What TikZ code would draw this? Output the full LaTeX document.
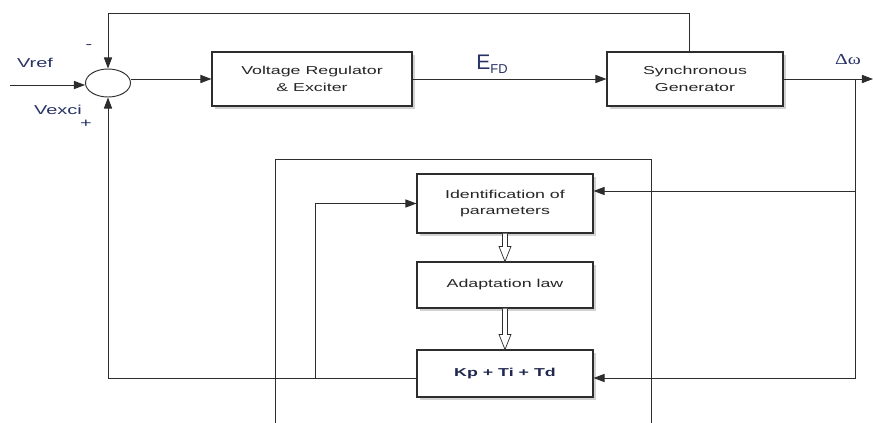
\documentclass[tikz,border=0pt]{standalone}
\usepackage{fontspec}
\setmainfont[FakeStretch=1.55]{Liberation Sans}
\newfontfamily\plainsans{Liberation Sans}
\newfontfamily\greekserif[FakeStretch=1.3]{Liberation Serif}
\usepackage{tikz}
\usetikzlibrary{positioning,calc,shapes.geometric,shadows,arrows.meta}
\definecolor{LineGray}{RGB}{45,45,45}
\definecolor{LabelNavy}{RGB}{40,50,100}
\tikzset{
  block/.style={draw=LineGray, line width=0.9pt, fill=white, text=black!85, minimum width=5.28cm, align=center,
    font=\fontsize{9.8}{14}\selectfont, drop shadow={shadow xshift=2.5pt, shadow yshift=-2.5pt, fill=black!35}},
  link/.style={draw=LineGray, line width=0.8pt},
  sig/.style={link, -{Triangle[length=9.5pt,width=7pt]}},
  tag/.style={text=LabelNavy, font=\fontsize{11}{13}\selectfont},
}
\newcommand{\hollowdown}[2]{%
  \draw[link, line width=0.6pt, fill=white] ($(#1.south)+(-2.5,0)$) -- ($(#2.north)+(-2.5,-15)$) -- ($(#2.north)+(-6,-15)$)
    -- (#2.north) -- ($(#2.north)+(6,-15)$) -- ($(#2.north)+(2.5,-15)$) -- ($(#1.south)+(2.5,0)$);}

\begin{document}
\begin{tikzpicture}[x=0.03cm, y=-0.03cm]
  \useasboundingbox (0,0) rectangle (873,423);

  \draw[link] (275,425) |- (651,159) -- (651,425);

  \node[draw=LineGray, line width=0.8pt, ellipse, minimum width=1.35cm, minimum height=0.84cm, inner sep=0pt] (sum) at (108,83) {};
  \node[block, minimum width=6cm, minimum height=1.62cm] (vreg) at (312,79) {Voltage Regulator\\\& Exciter};
  \node[block, minimum height=1.62cm] (syngen) at (695,79) {Synchronous\\Generator};
  \node[block, minimum height=1.77cm] (idp) at (505,203.5) {Identification of\\parameters};
  \node[block, minimum height=1.38cm] (adapt) at (505,285) {Adaptation law};
  \node[block, minimum height=1.41cm, text=LabelNavy!80!black, font=\fontsize{9.8}{12}\selectfont\bfseries] (pid) at (505,373.5) {Kp + Ti + Td};

  \node[tag] (vref) at (35,63) {Vref};
  \node[tag] (minus) at (89,47) {-};
  \node[tag] (vexci) at (58,110) {Vexci};
  \node[tag] (plus) at (86,124) {+};
  \node[text=LabelNavy] (efd) at (492,64) {\plainsans\fontsize{18}{20}\selectfont E\fontsize{11}{12}\selectfont\raisebox{-3pt}{FD}};
  \node[text=LabelNavy] (dw) at (848,60) {\greekserif\fontsize{13}{14}\selectfont Δω};

  \coordinate (vin) at (10,85);
  \coordinate (wout) at (873,79);
  \coordinate (br) at (855,79);
  \coordinate (tap) at (315,378);

  \draw[sig] (vin) -- (vin -| sum.west);
  \draw[sig] (sum.east |- vreg.west) -- (vreg.west);
  \draw[sig] (vreg.east) -- (syngen.west);
  \draw[sig] ($(syngen.north)+(-6,0)$) -- ++(0,-38) -| (sum.north);
  \draw[sig] (syngen.east) -- (wout);
  \draw[sig] (br) |- ($(idp.east)+(0,-12.5)$);
  \draw[sig] (br) |- ($(pid.east)+(0,4.5)$);
  \draw[sig] ($(pid.west)+(0,4.5)$) -| (sum.south);
  \draw[sig] (tap) |- (idp.west);

  \hollowdown{idp}{adapt}
  \hollowdown{adapt}{pid}
\end{tikzpicture}
\end{document}
